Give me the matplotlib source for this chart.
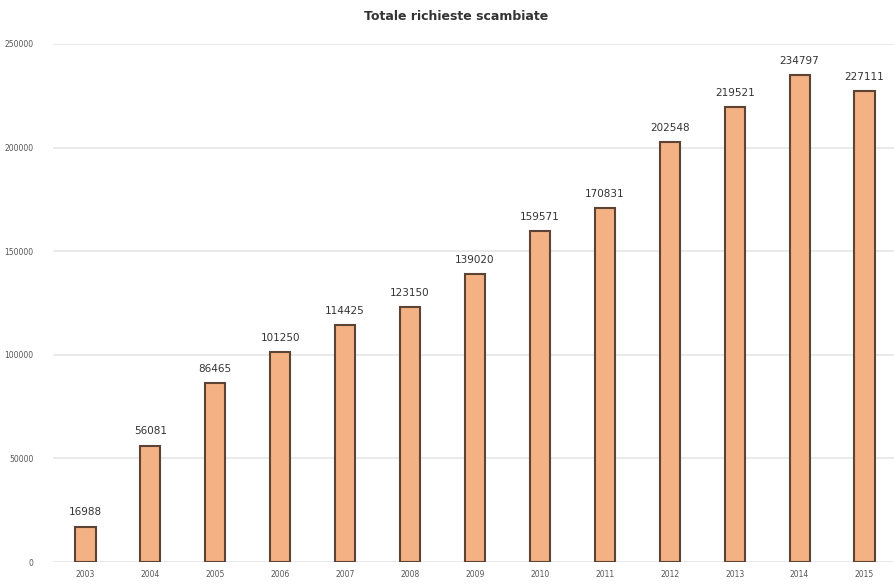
import matplotlib
matplotlib.use("Agg")
import matplotlib.pyplot as plt
import numpy as np

years = ["2003", "2004", "2005", "2006", "2007", "2008", "2009", "2010",
         "2011", "2012", "2013", "2014", "2015"]
values = [16988, 56081, 86465, 101250, 114425, 123150, 139020, 159571,
          170831, 202548, 219521, 234797, 227111]
yticks = [0, 50000, 100000, 150000, 200000, 250000]
title = "Totale richieste scambiate"

fig = plt.figure(figsize=(8.94, 5.85), dpi=100)
ax = fig.add_axes([0.0593, 0.0393, 0.944, 0.8855])

x = np.arange(len(years))
bars = ax.bar(x, values, width=0.31, color="#F4B183", edgecolor="#5b4434",
              linewidth=1.5, zorder=3)
for xi, v in zip(x, values):
    ax.text(xi, v + 4500, str(v), ha="center", va="bottom", fontsize=7.5,
            color="#333333")

ax.set_xlim(-0.5, len(years) - 0.5)
ax.set_ylim(0, 250000)
ax.set_yticks(yticks)
ax.set_yticklabels([str(t) for t in yticks])
ax.set_xticks(x)
ax.set_xticklabels(years)
ax.tick_params(axis="both", length=0, labelsize=5.5, colors="#555555")
ax.tick_params(axis="y", pad=14)
ax.tick_params(axis="x", pad=6)
ax.yaxis.grid(True, color="#e4e4e4", linewidth=1.1, zorder=0)
for s in ax.spines.values():
    s.set_visible(False)

fig.text(0.51, 0.971, title, ha="center", va="center", fontsize=9,
         fontweight="bold", color="#333333")

fig.savefig("out.png", dpi=100)
